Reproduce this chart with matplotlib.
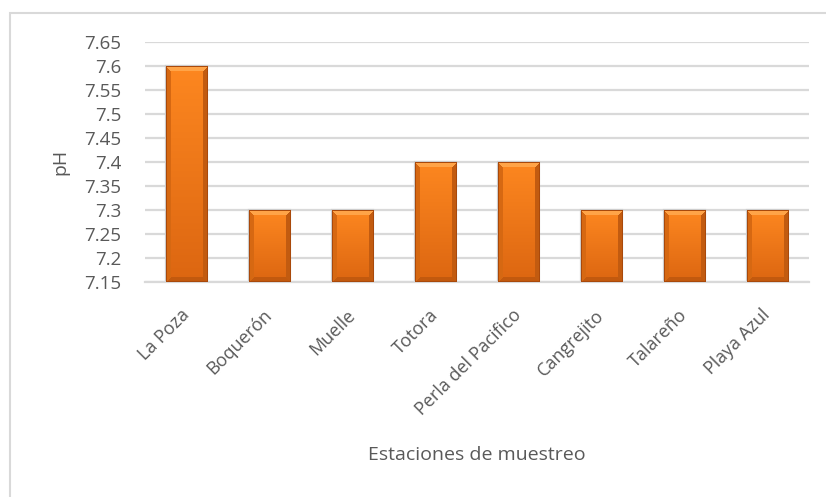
import numpy as np
import matplotlib
matplotlib.use("Agg")
import matplotlib.pyplot as plt
from matplotlib.colors import to_rgb
from matplotlib.patches import Rectangle

plt.rcParams['font.family'] = ['Open Sans', 'DejaVu Sans']

# pH por estacion de muestreo
estaciones = ['La Poza', 'Boquerón', 'Muelle', 'Totora', 'Perla del Pacifico',
              'Cangrejito', 'Talareño', 'Playa Azul']
ph = [7.6, 7.3, 7.3, 7.4, 7.4, 7.3, 7.3, 7.3]
y_ticks = [7.15, 7.2, 7.25, 7.3, 7.35, 7.4, 7.45, 7.5, 7.55, 7.6, 7.65]

ymin, ymax = 7.15, 7.65
gris = '#595959'
linea = '#D9D9D9'

fig = plt.figure(figsize=(8.26, 4.97), dpi=100)
ax = fig.add_axes([145/826, 1 - 282/497, (809-145)/826, (282-42)/497])

# marco del grafico (solo se ve arriba y a la izquierda)
fig.patches.append(Rectangle((10/826, -0.2), 1.2, 1 - 13/497 + 0.2,
                             transform=fig.transFigure, fill=False,
                             edgecolor=linea, linewidth=1.5, zorder=0))

x = np.arange(len(estaciones))
alturas = [v - ymin for v in ph]
bars = ax.bar(x, alturas, bottom=ymin, width=0.5, color='#E8701A',
              edgecolor='#CDCDCD', linewidth=1.6, zorder=2)

ax.set_xlim(-0.5, len(estaciones) - 0.5)
ax.set_ylim(ymin, ymax)
ax.set_yticks(y_ticks)
ax.set_yticklabels(['%g' % t for t in y_ticks])
ax.yaxis.grid(True, color=linea, linewidth=1.6)
ax.set_axisbelow(True)
for s in ['top', 'right', 'left']:
    ax.spines[s].set_visible(False)
ax.spines['bottom'].set_color(linea)
ax.spines['bottom'].set_linewidth(1.6)
ax.tick_params(axis='y', length=0, labelsize=13.5, colors=gris, pad=17)
ax.set_xticks(x)
ax.set_xticklabels(estaciones, rotation=45, ha='right', va='center',
                   rotation_mode='anchor')
ax.tick_params(axis='x', length=0, labelsize=13, colors=gris, pad=22)
ax.set_ylabel('pH', fontsize=14, color=gris, va='center')
ax.yaxis.set_label_coords(-0.128, 0.5)
ax.set_xlabel('Estaciones de muestreo', fontsize=14, color=gris, va='center')
ax.xaxis.set_label_coords(0.5, -0.72)


def relleno_bisel(w, h, b=5):
    # cara con degradado vertical y bisel en los cuatro bordes
    top, bot = np.array(to_rgb('#FD8720')), np.array(to_rgb('#DC6611'))
    t = np.linspace(0, 1, h)[:, None, None]
    img = np.repeat(top * (1 - t) + bot * t, w, axis=1)
    yy, xx = np.mgrid[0:h, 0:w]
    dist = np.stack([yy, xx, w - 1 - xx, h - 1 - yy])
    lado = dist.argmin(axis=0)
    d = dist.min(axis=0)
    tonos = [to_rgb('#FFA448'), to_rgb('#D66812'), to_rgb('#C25B10'), to_rgb('#C2590E')]
    for k, c in enumerate(tonos):
        m = (lado == k) & (d < b)
        img[m] = c
    img[d < 1] = to_rgb('#A9490B')
    return img


fig.canvas.draw()
for bar in bars:
    bb = bar.get_window_extent()
    w, h = max(int(round(bb.width)), 2), max(int(round(bb.height)), 2)
    im = ax.imshow(relleno_bisel(w, h), origin='upper', aspect='auto',
                   extent=(bar.get_x(), bar.get_x() + bar.get_width(),
                           bar.get_y(), bar.get_y() + bar.get_height()),
                   interpolation='nearest', zorder=3)
    im.set_clip_path(bar)

ax.set_xlim(-0.5, len(estaciones) - 0.5)
ax.set_ylim(ymin, ymax)

fig.savefig('out.png', dpi=100)
